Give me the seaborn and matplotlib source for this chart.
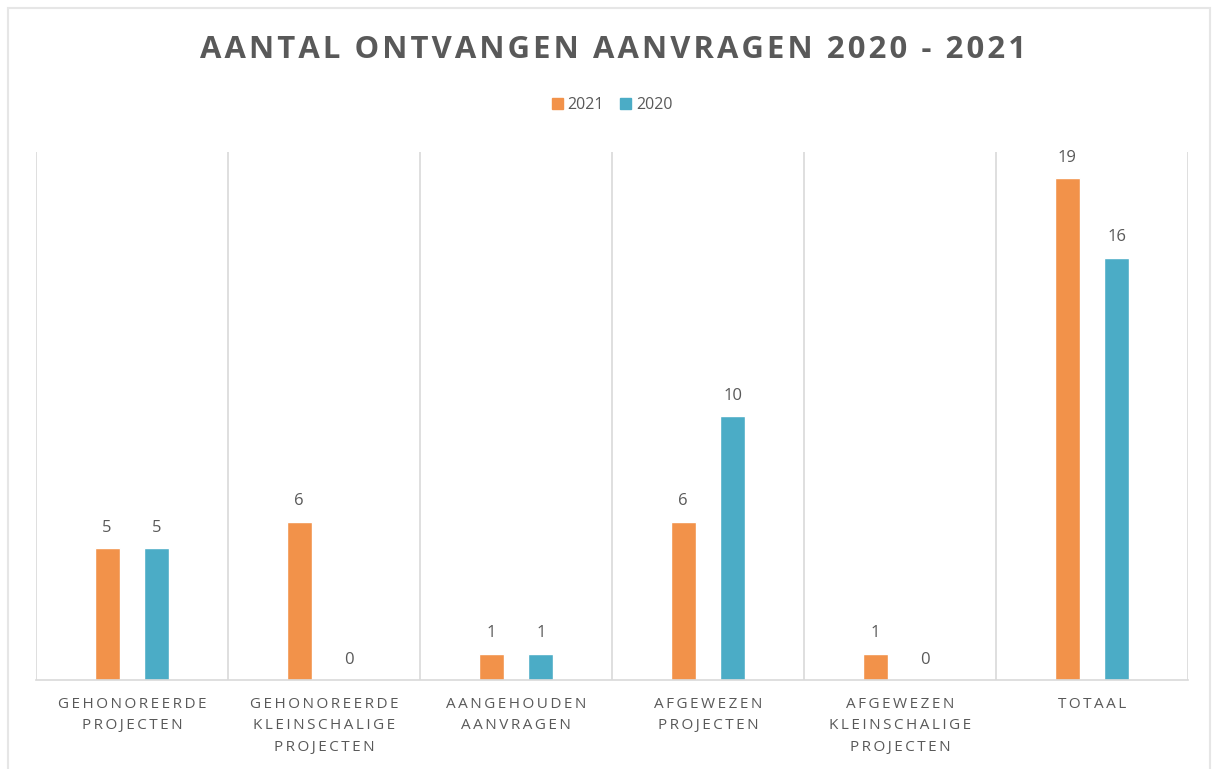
import pandas as pd
import matplotlib.pyplot as plt
from matplotlib.patches import Rectangle
import seaborn as sns

# chart data
categories = ['GEHONOREERDE\nPROJECTEN',
              'GEHONOREERDE\nKLEINSCHALIGE\nPROJECTEN',
              'AANGEHOUDEN\nAANVRAGEN',
              'AFGEWEZEN\nPROJECTEN',
              'AFGEWEZEN\nKLEINSCHALIGE\nPROJECTEN',
              'TOTAAL']
values_2021 = [5, 6, 1, 6, 1, 19]
values_2020 = [5, 0, 1, 10, 0, 16]
series = ['2021', '2020']

orange = '#F2924A'
blue = '#4BACC6'
grey = '#595959'


# spread letters a bit, like the letter spacing in the original
def spaced(text, sep='\u2009'):
    return '\n'.join(sep.join(line) for line in text.split('\n'))


df = pd.DataFrame({
    'categorie': categories * 2,
    'jaar': ['2021'] * len(categories) + ['2020'] * len(categories),
    'aantal': values_2021 + values_2020,
})

sns.set_style('white')
plt.rcParams['font.family'] = ['Open Sans', 'DejaVu Sans']

fig = plt.figure(figsize=(12.12, 7.69), dpi=100)
ax = fig.add_axes([0.0297, 0.1157, 0.9505, 0.6866])

sns.barplot(data=df, x='categorie', y='aantal', hue='jaar',
            hue_order=series, palette=[orange, blue], saturation=1,
            width=0.52, gap=0.5, ax=ax, legend=False)

# value labels above the bars
for cont in ax.containers:
    ax.bar_label(cont, padding=9, fontsize=12, color=grey)

ax.set_ylim(0, 20)
ax.set_xlim(-0.5, len(categories) - 0.5)
ax.set_xlabel('')
ax.set_ylabel('')
ax.set_yticks([])
ax.set_xticks(range(len(categories)))
ax.set_xticklabels([spaced(c) for c in categories], fontsize=11,
                   color=grey, linespacing=1.6)
ax.tick_params(axis='x', length=0, pad=12)

# vertical separators between the categories
for xpos in [i - 0.5 for i in range(len(categories) + 1)]:
    ax.axvline(xpos, color='#D9D9D9', lw=1.2, zorder=0)
for side in ['top', 'left', 'right']:
    ax.spines[side].set_visible(False)
ax.spines['bottom'].set_color('#D9D9D9')
ax.spines['bottom'].set_linewidth(1.2)

fig.text(0.506, 0.935, spaced('AANTAL ONTVANGEN AANVRAGEN 2020 - 2021', '\u200a'),
         ha='center', va='center', fontsize=22.3, fontweight='bold', color=grey)

# legend
handles = [Rectangle((0, 0), 1, 1, color=orange),
           Rectangle((0, 0), 1, 1, color=blue)]
fig.legend(handles, series, loc='center', bbox_to_anchor=(0.505, 0.863),
           ncol=2, frameon=False, fontsize=11.5, handlelength=0.7,
           handleheight=0.7, handletextpad=0.3, columnspacing=1.0,
           labelcolor=grey)

# light border around the picture
fig.add_artist(Rectangle((0.007, -0.01), 0.991, 1.0, transform=fig.transFigure,
                         fill=False, edgecolor='#E6E6E6', lw=1.5))

fig.savefig('out.png', dpi=100)
